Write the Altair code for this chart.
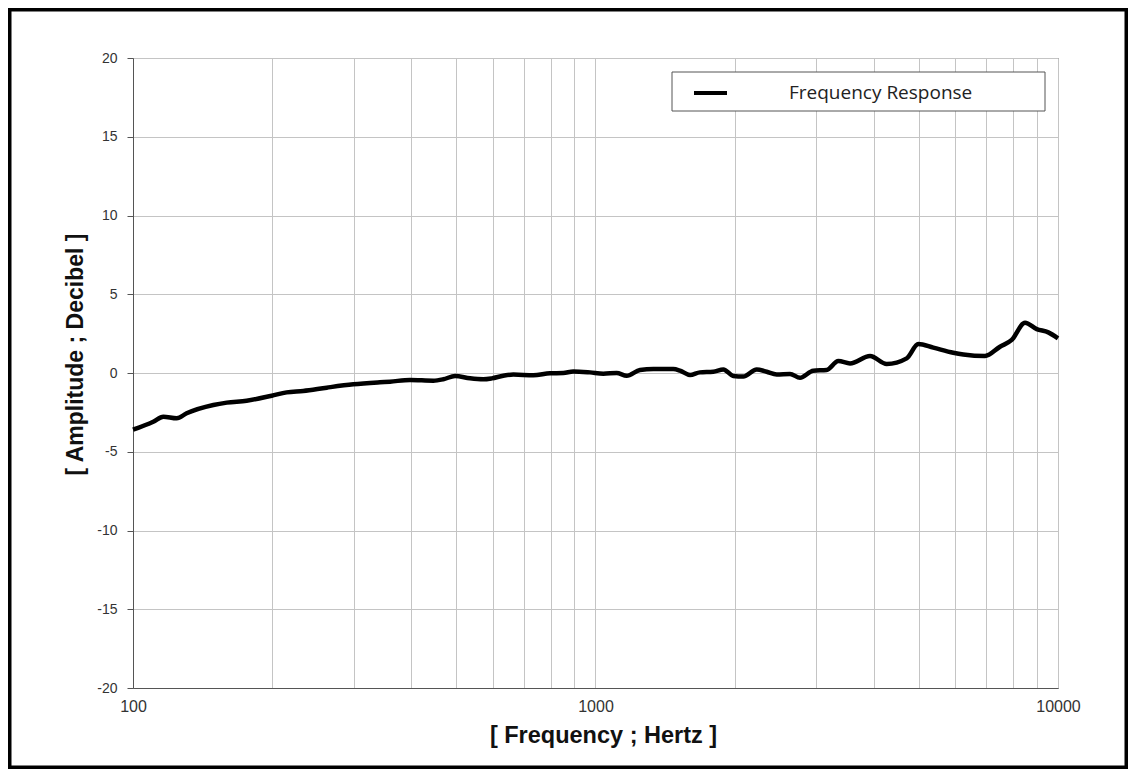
import altair as alt
import pandas as pd

# Frequency (Hz) and amplitude (dB)
freq = [100, 110.6, 116.3, 124.3, 130.6, 149.2, 159.5, 176.1, 199.5, 214.9,
        233.4, 262.4, 299.5, 342.0, 359.5, 397.2, 446.0, 468.8, 497.0, 535.5,
        572.1, 596.6, 631.9, 664.3, 733.9, 797.3, 851.9, 895.3, 972.9, 1039.7,
        1111, 1168, 1248, 1334, 1473, 1523, 1601, 1682, 1797, 1890,
        1986, 2087, 2231, 2345, 2465, 2634, 2768, 2957, 3161, 3350,
        3551, 3923, 4262, 4708, 4989, 5376, 5938, 6242, 6954, 7492,
        7943, 8486, 8993, 9528, 10000]
db = [-3.6, -3.09, -2.77, -2.88, -2.56, -2.03, -1.88, -1.76, -1.44, -1.23,
      -1.14, -0.93, -0.72, -0.59, -0.55, -0.44, -0.49, -0.40, -0.19, -0.34,
      -0.40, -0.34, -0.17, -0.09, -0.15, -0.02, 0.0, 0.10, 0.04, -0.04,
      0.0, -0.17, 0.19, 0.25, 0.25, 0.15, -0.13, 0.04, 0.08, 0.23,
      -0.19, -0.23, 0.23, 0.08, -0.09, -0.06, -0.30, 0.15, 0.19, 0.76,
      0.61, 1.08, 0.57, 0.93, 1.84, 1.61, 1.29, 1.18, 1.08, 1.67,
      2.10, 3.19, 2.79, 2.58, 2.20]
series_name = "Frequency Response"

x_grid = [100, 200, 300, 400, 500, 600, 700, 800, 900,
          1000, 2000, 3000, 4000, 5000, 6000, 7000, 8000, 9000, 10000]
x_labels = [100, 1000, 10000]
y_ticks = [-20, -15, -10, -5, 0, 5, 10, 15, 20]

df = pd.DataFrame({"freq": freq, "db": db, "series": [series_name] * len(freq)})

W, H = 925, 630
PAD = {"left": 125, "top": 50, "right": 70, "bottom": 81}

label_test = " || ".join(f"datum.value == {v}" for v in x_labels)

line = alt.Chart(df).mark_line(strokeWidth=4.5, interpolate="monotone").encode(
    x=alt.X("freq:Q",
            scale=alt.Scale(type="log", domain=[100, 10000], nice=False),
            axis=alt.Axis(values=x_grid,
                          labelExpr=f"({label_test}) ? toString(datum.value) : ''",
                          title="[ Frequency ; Hertz ]",
                          ticks=False, tickSize=0,
                          labelPadding=10, labelFontSize=16,
                          labelFont="Liberation Sans", labelColor="#333",
                          labelFlush=False, labelOverlap=False,
                          domainColor="#555",
                          gridColor="#c4c4c4", gridWidth=1,
                          titleFont="Liberation Sans",
                          titleFontWeight="bold", titleFontSize=23.5,
                          titleColor="#111", titlePadding=9, titleX=470)),
    y=alt.Y("db:Q",
            scale=alt.Scale(domain=[-20, 20], nice=False),
            axis=alt.Axis(values=y_ticks,
                          labelExpr="toString(datum.value)",
                          title="[ Amplitude ; Decibel ]",
                          tickSize=6, tickColor="#555",
                          labelPadding=10, labelFontSize=14,
                          labelFont="Liberation Sans", labelColor="#333",
                          labelFlush=False,
                          domainColor="#555",
                          gridColor="#c4c4c4", gridWidth=1,
                          titleFont="Liberation Sans",
                          titleFontWeight="bold", titleFontSize=23,
                          titleColor="#111", titlePadding=9, titleY=296)),
    color=alt.Color("series:N",
                    scale=alt.Scale(range=["#000000"]),
                    legend=alt.Legend(title=None, orient="none",
                                      legendX=559, legendY=16.5,
                                      padding=0,
                                      symbolType="stroke", symbolSize=1089,
                                      symbolStrokeWidth=4,
                                      labelOffset=60, labelLimit=500,
                                      labelFont="Open Sans", labelFontSize=19,
                                      labelColor="#222")),
)

# legend box (decoration behind the legend entry)
legend_box = alt.Chart(alt.Data(values=[{"k": 1}])).mark_rect(
    fill="white", stroke="#555", strokeWidth=1
).encode(
    x=alt.value(539), x2=alt.value(912),
    y=alt.value(14), y2=alt.value(53),
)

# outer black frame around the whole figure
frame = alt.Chart(alt.Data(values=[{"k": 1}])).mark_rect(
    fill=None, stroke="#000000", strokeWidth=3.5, clip=False
).encode(
    x=alt.value(-PAD["left"] + 1.75),
    x2=alt.value(W + PAD["right"] - 1.75),
    y=alt.value(-PAD["top"] + 1.75),
    y2=alt.value(H + PAD["bottom"] - 1.75),
)

chart = alt.layer(line, legend_box, frame).properties(
    width=W, height=H,
    autosize=alt.AutoSizeParams(type="none"),
    padding=PAD,
    background="white",
).configure_view(stroke="#555", strokeWidth=1)

chart.save("out.html", embed_options={"renderer": "svg", "actions": False})
